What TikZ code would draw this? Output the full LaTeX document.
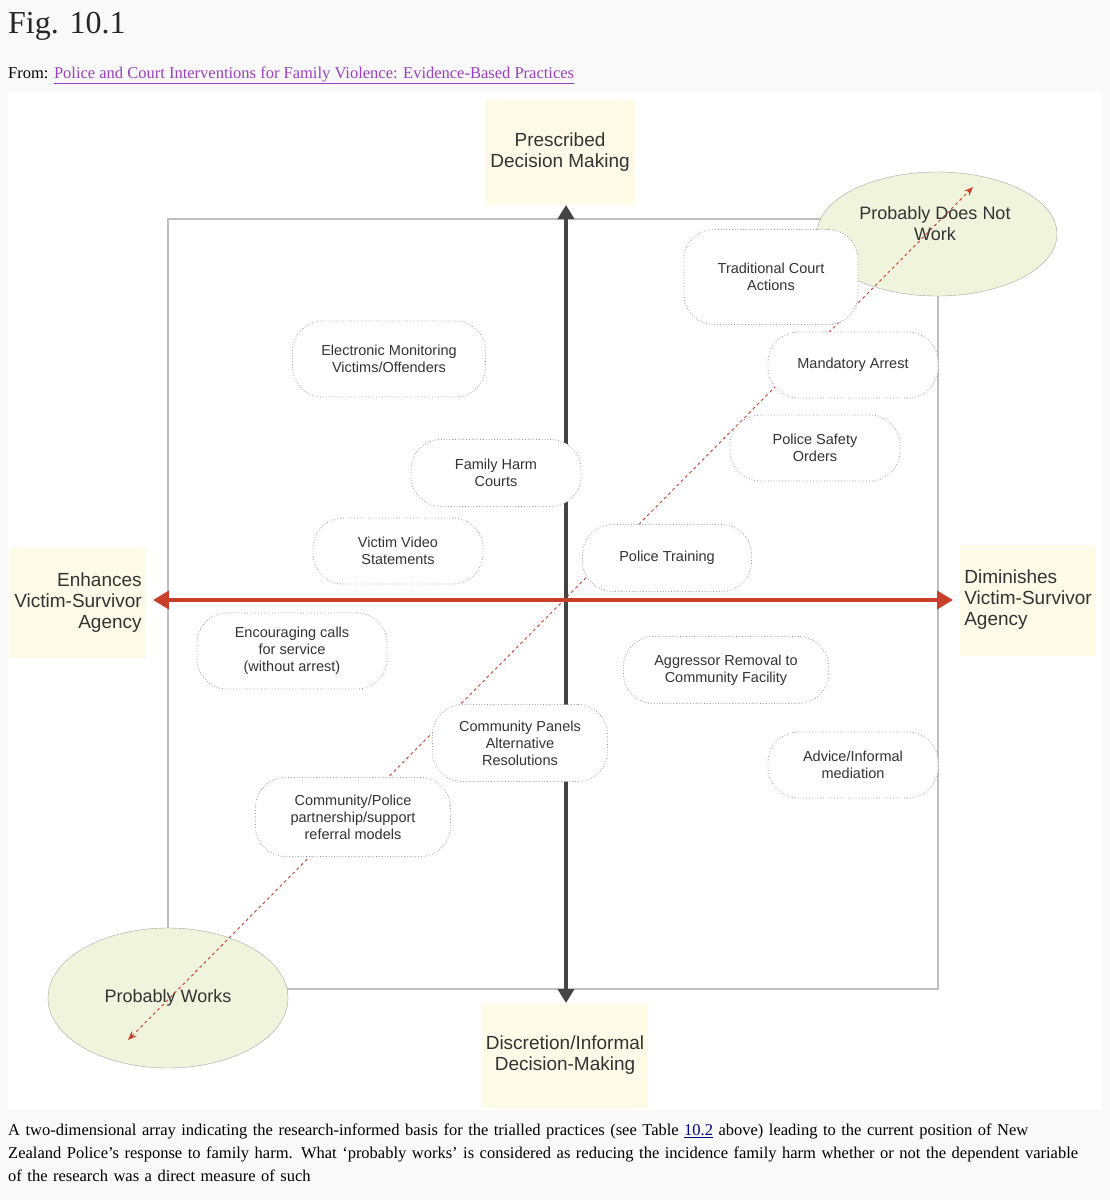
\documentclass[tikz,border=0pt]{standalone}
\usepackage{fontspec}
\setmainfont{Liberation Sans}
\newfontfamily\serifa{Liberation Serif}
\usetikzlibrary{arrows.meta,shapes.geometric}
\definecolor{pagebg}{HTML}{F9F9F9}
\definecolor{beige}{HTML}{FDFBE8}
\definecolor{ellfill}{HTML}{F1F4DC}
\definecolor{redax}{HTML}{C8402A}
\definecolor{darkax}{HTML}{444444}
\definecolor{linkc}{HTML}{9B3FC0}
\begin{document}
\begin{tikzpicture}[x=1pt,y=-1pt,
  item/.style={draw=gray!80,dotted,line width=0.8pt,fill=white,rounded corners=30pt,minimum width=#1,align=center,font=\fontsize{14.5}{17}\selectfont,text=black!80},
  lab/.style={fill=beige,align=center,font=\fontsize{19}{21}\selectfont,text=black!80},
  ell/.style={draw=gray!70,fill=ellfill,ellipse,font=\fontsize{18}{21}\selectfont,text=black!80}]
\useasboundingbox (0,0) rectangle (1110,1200);
\fill[pagebg] (0,0) rectangle (1110,1200);
\fill[white] (8,92) rectangle (1102,1110);
\node[anchor=base west,font=\serifa\fontsize{32}{34}\selectfont,text=black!85,inner sep=0] (title) at (8,33) {Fig. 10.1};
\node[anchor=base west,font=\serifa\fontsize{16.5}{18}\selectfont,inner sep=0] (from) at (8,78) {From: \textcolor{linkc}{\underline{Police and Court Interventions for Family Violence: Evidence-Based Practices}}};
\node[anchor=north west,font=\serifa\fontsize{16.5}{23}\selectfont,align=left,inner sep=0,text width=1090pt] (cap) at (8,1124) {A two-dimensional array indicating the research-informed basis for the trialled practices (see Table \textcolor{blue!50!black}{\underline{10.2}} above) leading to the current position of New\\Zealand Police’s response to family harm. What ‘probably works’ is considered as reducing the incidence family harm whether or not the dependent variable\\of the research was a direct measure of such};
% frame
\draw[gray!50,line width=1.2pt] (168,219) rectangle (938,989);
% labels
\node[lab,minimum width=150pt,minimum height=105pt] (top) at (560,152) {Prescribed\\Decision Making};
\node[lab,minimum width=162pt,minimum height=105pt] (bot) at (565,1055) {Discretion/Informal\\Decision-Making};
\node[lab,minimum width=136pt,minimum height=110pt,align=right] (left) at (78,603) {Enhances\\Victim-Survivor\\Agency};
\node[lab,minimum width=136pt,minimum height=111pt,align=left] (right) at (1028,600) {Diminishes\\Victim-Survivor\\Agency};
% ellipses
\node[ell,minimum width=240pt,minimum height=124pt] (pdnw) at (937,234) {};
\node[ell,minimum width=240pt,minimum height=140pt] (pw) at (168,998) {Probably Works};
\node[align=center,font=\fontsize{18}{21}\selectfont,text=black!80] (pdnwt) at (935,224) {Probably Does Not\\Work};
% diagonal
\coordinate (d1) at (128,1040);
\coordinate (d2) at (973,187);
\draw[redax,dashed,line width=0.9pt,{Stealth[length=9pt,width=7pt]}-{Stealth[length=9pt,width=7pt]}] (d1) -- (d2);
% axes
\coordinate (vt) at (566,205);
\coordinate (vb) at (566,1003);
\coordinate (hl) at (153,600);
\coordinate (hr) at (953,600);
\draw[darkax,line width=4pt,{Triangle[length=14pt,width=16pt]}-{Triangle[length=14pt,width=16pt]}] (vt) -- (vb);
\draw[redax,line width=4pt,{Triangle[length=16pt,width=18pt]}-{Triangle[length=16pt,width=18pt]}] (hl) -- (hr);
% items
\node[item=174pt,minimum height=95pt] (tca) at (771,277) {Traditional Court\\Actions};
\node[item=193pt,minimum height=76pt] (em) at (389,359) {Electronic Monitoring\\Victims/Offenders};
\node[item=170pt,minimum height=66pt] (ma) at (853,365) {Mandatory Arrest};
\node[item=170pt,minimum height=66pt] (pso) at (815,448) {Police Safety\\Orders};
\node[item=170pt,minimum height=67pt] (fhc) at (496,473) {Family Harm\\Courts};
\node[item=170pt,minimum height=66pt] (vvs) at (398,551) {Victim Video\\Statements};
\node[item=169pt,minimum height=67pt] (pt) at (667,558) {Police Training};
\node[item=190pt,minimum height=76pt] (ec) at (292,651) {Encouraging calls\\for service\\(without arrest)};
\node[item=205pt,minimum height=67pt] (ar) at (726,670) {Aggressor Removal to\\Community Facility};
\node[item=175pt,minimum height=77pt] (cp) at (520,743) {Community Panels\\Alternative\\Resolutions};
\node[item=170pt,minimum height=66pt] (ai) at (853,765) {Advice/Informal\\mediation};
\node[item=195pt,minimum height=79pt] (cpp) at (353,817) {Community/Police\\partnership/support\\referral models};
\end{tikzpicture}
\end{document}
